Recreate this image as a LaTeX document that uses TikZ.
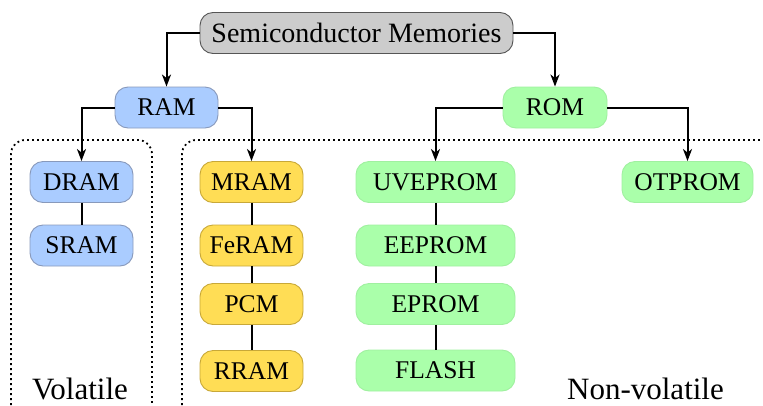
\documentclass[tikz,border=0pt]{standalone}
\usepackage{fontspec}
\setmainfont{Liberation Serif}
\usetikzlibrary{arrows.meta}
\definecolor{bluefill}{HTML}{AACCFF}
\definecolor{blueedge}{HTML}{8899BB}
\definecolor{yelfill}{HTML}{FFDD55}
\definecolor{yeledge}{HTML}{C8A838}
\definecolor{grnfill}{HTML}{AAFFAA}
\definecolor{grnedge}{HTML}{A0F0A0}
\definecolor{grayfill}{HTML}{CCCCCC}
\definecolor{grayedge}{HTML}{555555}
\tikzset{
  memnode/.style={rounded corners=13pt, minimum height=41pt, inner sep=0pt,
    font=\fontsize{25.5}{30}\selectfont, line width=0.9pt},
  bluebox/.style={memnode, fill=bluefill, draw=blueedge, minimum width=103pt},
  yelbox/.style={memnode, fill=yelfill, draw=yeledge, minimum width=103pt},
  grnbox/.style={memnode, fill=grnfill, draw=grnedge, minimum width=159pt},
  topbox/.style={memnode, fill=grayfill, draw=grayedge, minimum width=313pt,
    font=\fontsize{28}{32}\selectfont},
  arr/.style={line width=2pt, -{Stealth[length=12pt,width=9pt,inset=3.5pt]}},
  link/.style={line width=2pt},
  region/.style={line width=1.8pt, dash pattern=on 1.8pt off 3.2pt, rounded corners=14pt},
  regionlabel/.style={font=\fontsize{31}{35}\selectfont, anchor=base}
}
\begin{document}
\begin{tikzpicture}[x=1pt, y=-1pt]
\useasboundingbox (0,0) rectangle (763,405);
% regions
\draw[region] (11,410) -- (11,140) -- (152,140) -- (152,410);
\draw[region] (182,410) -- (182,140) -- (800,140);
% nodes
\node[topbox] (sm) at (356.5,33) {Semiconductor Memories};
\node[bluebox] (ram) at (166.5,107.5) {RAM};
\node[grnbox, minimum width=104pt] (rom) at (555,107.5) {ROM};
\node[bluebox] (dram) at (81.5,182) {DRAM};
\node[bluebox] (sram) at (81.5,245.5) {SRAM};
\node[yelbox] (mram) at (251.5,182) {MRAM};
\node[yelbox] (feram) at (251.5,245.5) {FeRAM};
\node[yelbox] (pcm) at (251.5,304) {PCM};
\node[yelbox] (rram) at (251.5,371) {RRAM};
\node[grnbox] (uveprom) at (435.5,182) {UVEPROM};
\node[grnbox] (eeprom) at (435.5,245.5) {EEPROM};
\node[grnbox] (eprom) at (435.5,304) {EPROM};
\node[grnbox] (flash) at (435.5,370.5) {FLASH};
\node[grnbox, minimum width=131pt] (otprom) at (687.5,182) {OTPROM};
% labels
\node[regionlabel] (vol) at (80,399) {Volatile};
\node[regionlabel] (nonvol) at (645.5,399) {Non-volatile};
% connectors
\draw[arr] (sm.west) -| (ram.north);
\draw[arr] (sm.east) -| (rom.north);
\draw[arr] (ram.west) -| (dram.north);
\draw[arr] (ram.east) -| (mram.north);
\draw[arr] (rom.west) -| (uveprom.north);
\draw[arr] (rom.east) -| (otprom.north);
\draw[link] (dram) -- (sram);
\draw[link] (mram) -- (feram);
\draw[link] (feram) -- (pcm);
\draw[link] (pcm) -- (rram);
\draw[link] (uveprom) -- (eeprom);
\draw[link] (eeprom) -- (eprom);
\draw[link] (eprom) -- (flash);
\end{tikzpicture}
\end{document}
